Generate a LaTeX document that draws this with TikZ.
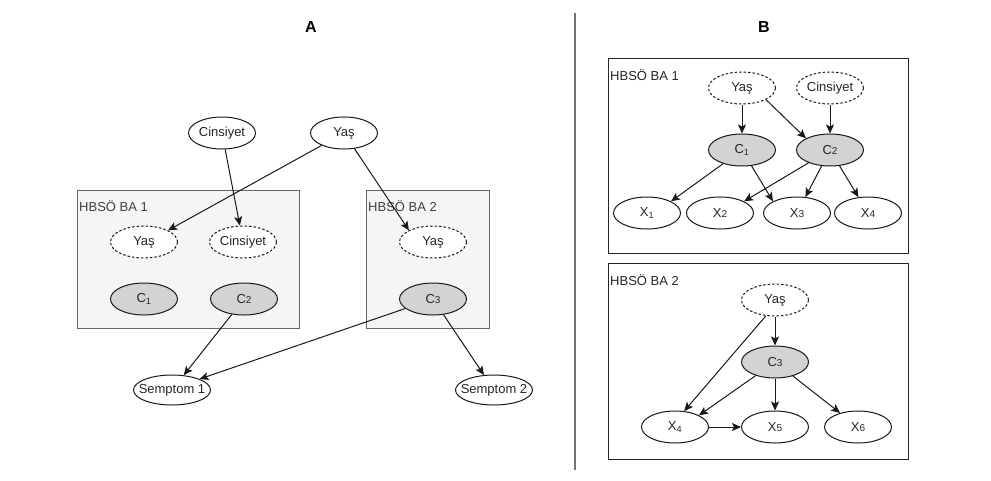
\documentclass[tikz,border=0pt]{standalone}
\usepackage{fontspec}
\setmainfont{Liberation Sans}
\usetikzlibrary{arrows.meta,shapes.geometric}
\newcommand\mb[1]{\makebox[0pt]{#1}}
\newcommand\sm[1]{{\fontsize{10}{10}\selectfont #1}}
\definecolor{cfill}{HTML}{D3D3D3}
\definecolor{boxfill}{HTML}{F5F5F5}
\begin{document}
\begin{tikzpicture}[
            x=1pt, y=-1pt,
            font=\fontsize{13}{15}\selectfont,
            var/.style = {shape=ellipse, draw=black!90, fill=white, text=black!85, line width=1pt, inner sep=0pt, minimum width=67pt, minimum height=32pt},
            hidden/.style = {var, dash pattern=on 2.5pt off 2pt},
            latent/.style = {var, fill=cfill},
            plate/.style = {shape=rectangle, draw=black!60, fill=boxfill, line width=1pt},
            plateB/.style = {shape=rectangle, draw=black!85, fill=white, line width=1pt},
            platelbl/.style = {anchor=west, inner sep=0pt, text=black!75},
            edge/.style = {-{Stealth[length=9pt,width=8pt,inset=2pt]}, line width=1pt, draw=black!90}
          ]
          \useasboundingbox (0,0) rectangle (991,480);
          % headers and divider
          \node[font=\fontsize{16}{18}\selectfont\bfseries] (hA) at (311,27) {A};
          \node[font=\fontsize{16}{18}\selectfont\bfseries] (hB) at (764,27) {B};
          \coordinate (divtop) at (575,13);
          \coordinate (divbot) at (575,470);
          \draw[line width=1.2pt, black!55] (divtop) -- (divbot);

          % panel A
          \node[plate, minimum width=222pt, minimum height=138pt] (pa1) at (188,259) {};
          \node[plate, minimum width=123pt, minimum height=138pt] (pa2) at (427.5,259) {};
          \node[platelbl] (la1) at (79,206) {HBSÖ BA 1};
          \node[platelbl] (la2) at (368,206) {HBSÖ BA 2};
          \node[var] (cins) at (222,133) {\mb{Cinsiyet}};
          \node[var] (yas) at (344,133) {\mb{Yaş}};
          \node[hidden] (yasA1) at (144,242) {\mb{Yaş}};
          \node[hidden] (cinsA1) at (243,242) {\mb{Cinsiyet}};
          \node[hidden] (yasA2) at (433,242) {\mb{Yaş}};
          \node[latent] (cA1) at (144,299) {\mb{C\textsubscript{1}}};
          \node[latent] (cA2) at (244,299) {\mb{C\sm{2}}};
          \node[latent] (cA3) at (433,299) {\mb{C\sm{3}}};
          \node[var, minimum width=77pt, minimum height=30pt] (semp1) at (172,390) {\mb{Semptom 1}};
          \node[var, minimum width=77pt, minimum height=30pt] (semp2) at (494,390) {\mb{Semptom 2}};
          \draw[edge] (cins) -- (cinsA1);
          \draw[edge] (yas) -- (yasA1.north east);
          \draw[edge] (yas) -- (yasA2.north west);
          \draw[edge] (cA2) -- (semp1);
          \draw[edge] (cA3) -- (semp1.north east);
          \draw[edge] (cA3) -- (semp2);

          % panel B
          \node[plateB, minimum width=300pt, minimum height=195pt] (pb1) at (758,155.5) {};
          \node[plateB, minimum width=300pt, minimum height=196pt] (pb2) at (758,361) {};
          \node[platelbl, text=black!85] (lb1) at (610,75) {HBSÖ BA 1};
          \node[platelbl, text=black!85] (lb2) at (610,280) {HBSÖ BA 2};
          \node[hidden] (yasB1) at (742,88) {\mb{Yaş}};
          \node[hidden] (cinsB1) at (830,88) {\mb{Cinsiyet}};
          \node[latent] (cB1) at (742,150) {\mb{C\textsubscript{1}}};
          \node[latent] (cB2) at (830,150) {\mb{C\sm{2}}};
          \node[var] (x1) at (647,213) {\mb{X\textsubscript{1}}};
          \node[var] (x2) at (720,213) {\mb{X\sm{2}}};
          \node[var] (x3) at (797,213) {\mb{X\sm{3}}};
          \node[var] (x4) at (868,213) {\mb{X\sm{4}}};
          \draw[edge] (yasB1) -- (cB1);
          \draw[edge] (yasB1.south east) -- (cB2.north west);
          \draw[edge] (cinsB1) -- (cB2);
          \draw[edge] (cB1) -- (x1.north east);
          \draw[edge] (cB1) -- (x3.north west);
          \draw[edge] (cB2) -- (x2.north east);
          \draw[edge] (cB2) -- (x3);
          \draw[edge] (cB2) -- (x4);

          \node[hidden] (yasB2) at (775,300) {\mb{Yaş}};
          \node[latent] (cB3) at (775,362) {\mb{C\sm{3}}};
          \node[var] (x4b) at (675,427) {\mb{X\textsubscript{4}}};
          \node[var] (x5) at (775,427) {\mb{X\sm{5}}};
          \node[var] (x6) at (858,427) {\mb{X\sm{6}}};
          \draw[edge] (yasB2) -- (cB3);
          \draw[edge] (yasB2.240) -- (x4b.60);
          \draw[edge] (cB3) -- (x4b.north east);
          \draw[edge] (cB3) -- (x5);
          \draw[edge] (cB3) -- (x6);
          \draw[edge] (x4b) -- (x5);
        \end{tikzpicture}
\end{document}
